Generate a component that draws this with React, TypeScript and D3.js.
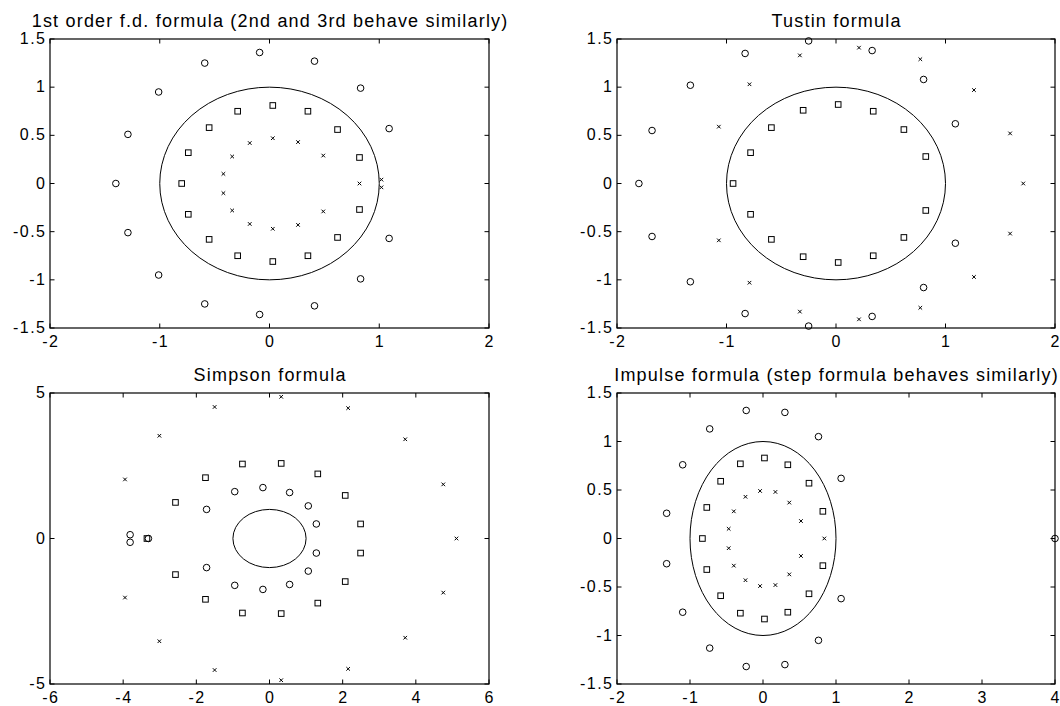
import * as d3 from "d3"

// pole/zero style points, [re, im]
const fdCircles = [[-0.09, 1.36], [-0.59, 1.25], [0.41, 1.27], [-1.01, 0.95], [0.83, 0.99], [-1.29, 0.51], [1.09, 0.57], [-1.4, 0], [-1.29, -0.51], [1.09, -0.57], [-1.01, -0.95], [0.83, -0.99], [-0.59, -1.25], [0.41, -1.27], [-0.09, -1.36]]
const fdSquares = [[0.03, 0.81], [-0.29, 0.75], [0.35, 0.75], [-0.55, 0.58], [0.62, 0.56], [-0.74, 0.32], [0.82, 0.27], [-0.8, 0], [-0.74, -0.32], [0.82, -0.27], [-0.55, -0.58], [0.62, -0.56], [-0.29, -0.75], [0.35, -0.75], [0.03, -0.81]]
const fdCrosses = [[0.03, 0.47], [-0.18, 0.42], [0.26, 0.43], [-0.34, 0.28], [0.49, 0.29], [-0.42, 0.1], [0.82, 0], [1.02, 0.04], [1.02, -0.04], [-0.42, -0.1], [-0.34, -0.28], [0.49, -0.29], [-0.18, -0.42], [0.26, -0.43], [0.03, -0.47]]

const tustinCircles = [[-0.25, 1.48], [-0.83, 1.35], [0.33, 1.38], [-1.33, 1.02], [0.8, 1.08], [-1.68, 0.55], [1.09, 0.62], [-1.8, 0], [-1.68, -0.55], [1.09, -0.62], [-1.33, -1.02], [0.8, -1.08], [-0.83, -1.35], [0.33, -1.38], [-0.25, -1.48]]
const tustinSquares = [[0.02, 0.82], [-0.3, 0.76], [0.34, 0.75], [-0.59, 0.58], [0.62, 0.56], [-0.78, 0.32], [0.82, 0.28], [-0.94, 0], [-0.78, -0.32], [0.82, -0.28], [-0.59, -0.58], [0.62, -0.56], [-0.3, -0.76], [0.34, -0.75], [0.02, -0.82]]
const tustinCrosses = [[0.21, 1.41], [-0.33, 1.33], [0.77, 1.29], [-0.79, 1.03], [1.26, 0.97], [-1.07, 0.59], [1.59, 0.52], [1.71, 0], [-1.07, -0.59], [1.59, -0.52], [-0.79, -1.03], [1.26, -0.97], [0.77, -1.29], [-0.33, -1.33], [0.21, -1.41]]

const simpsonCircles = [[-0.18, 1.75], [-0.95, 1.61], [0.55, 1.58], [-1.72, 1.0], [1.06, 1.12], [1.28, 0.5], [-3.81, 0.13], [-3.81, -0.13], [1.28, -0.5], [-1.72, -1.0], [1.06, -1.12], [-0.95, -1.61], [0.55, -1.58], [-0.18, -1.75], [-3.31, 0]]
const simpsonSquares = [[-0.74, 2.56], [0.32, 2.58], [-1.75, 2.09], [1.32, 2.22], [-2.57, 1.24], [2.07, 1.48], [2.49, 0.5], [-3.35, 0], [2.49, -0.5], [-2.57, -1.24], [2.07, -1.48], [-1.75, -2.09], [1.32, -2.22], [-0.74, -2.56], [0.32, -2.58]]
const simpsonCrosses = [[0.32, 4.87], [-1.5, 4.52], [2.15, 4.48], [-3.01, 3.53], [3.71, 3.41], [-3.95, 2.03], [4.75, 1.86], [5.11, 0], [-3.95, -2.03], [4.75, -1.86], [-3.01, -3.53], [3.71, -3.41], [-1.5, -4.52], [2.15, -4.48], [0.32, -4.87]]

const impulseCircles = [[-0.23, 1.32], [0.3, 1.3], [-0.73, 1.13], [0.76, 1.05], [-1.1, 0.76], [1.07, 0.62], [-1.32, 0.26], [-1.32, -0.26], [1.07, -0.62], [-1.1, -0.76], [0.76, -1.05], [-0.73, -1.13], [0.3, -1.3], [-0.23, -1.32], [4.0, 0]]
const impulseSquares = [[0.02, 0.83], [-0.31, 0.77], [0.34, 0.76], [-0.58, 0.59], [0.63, 0.57], [-0.77, 0.32], [0.82, 0.28], [-0.83, 0], [-0.77, -0.32], [0.82, -0.28], [-0.58, -0.59], [0.63, -0.57], [-0.31, -0.77], [0.34, -0.76], [0.02, -0.83]]
const impulseCrosses = [[-0.04, 0.49], [0.17, 0.48], [-0.24, 0.43], [0.36, 0.37], [-0.4, 0.28], [0.52, 0.18], [-0.47, 0.1], [0.84, 0], [-0.47, -0.1], [0.52, -0.18], [-0.4, -0.28], [0.36, -0.37], [-0.24, -0.43], [0.17, -0.48], [-0.04, -0.49]]

// ticks
const ticks2 = [-2, -1, 0, 1, 2]
const ticks15 = [-1.5, -1, -0.5, 0, 0.5, 1, 1.5]
const ticks6 = [-6, -4, -2, 0, 2, 4, 6]
const ticks5 = [-5, 0, 5]
const ticksImpulse = [-2, -1, 0, 1, 2, 3, 4]

const titles = [
    "1st order f.d. formula (2nd and 3rd behave similarly)",
    "Tustin formula",
    "Simpson formula",
    "Impulse formula (step formula behaves similarly)",
]

const FONT = "'Liberation Sans', Arial, Helvetica, sans-serif"

type Pt = number[]

function Panel(props: {
    left: number, top: number, width: number, height: number,
    xDomain: number[], yDomain: number[], xTicks: number[], yTicks: number[],
    title: string, circles: Pt[], squares: Pt[], crosses: Pt[]
}) {
    const { left, top, width, height } = props
    const x = d3.scaleLinear().domain(props.xDomain).range([left, left + width])
    const y = d3.scaleLinear().domain(props.yDomain).range([top + height, top])
    const tick = 4.5
    const ls = 1.5

    return (
        <g>
            {/* unit circle */}
            <ellipse cx={x(0)} cy={y(0)} rx={x(1) - x(0)} ry={y(0) - y(1)}
                fill="none" stroke="#000" strokeWidth={1} />

            {props.circles.map((d, i) => (
                <circle key={"c" + i} cx={x(d[0])} cy={y(d[1])} r={3.3}
                    fill="none" stroke="#000" strokeWidth={1} />
            ))}
            {props.squares.map((d, i) => (
                <rect key={"s" + i} x={x(d[0]) - 2.8} y={y(d[1]) - 2.8} width={5.6} height={5.6}
                    fill="none" stroke="#000" strokeWidth={1} />
            ))}
            {props.crosses.map((d, i) => {
                const cx = x(d[0]), cy = y(d[1]), s = 1.8
                return (
                    <path key={"x" + i}
                        d={`M${cx - s},${cy - s}L${cx + s},${cy + s}M${cx - s},${cy + s}L${cx + s},${cy - s}`}
                        stroke="#000" strokeWidth={1} fill="none" />
                )
            })}

            {/* box */}
            <rect x={left} y={top} width={width} height={height}
                fill="none" stroke="#000" strokeWidth={1.2} />

            {props.xTicks.map(t => (
                <g key={"xt" + t}>
                    <line x1={x(t)} x2={x(t)} y1={top + height} y2={top + height - tick} stroke="#000" strokeWidth={1} />
                    <line x1={x(t)} x2={x(t)} y1={top} y2={top + tick} stroke="#000" strokeWidth={1} />
                    <text x={x(t) + ls / 2} y={top + height + 19} textAnchor="middle"
                        fontSize={16} letterSpacing={ls} fontFamily={FONT}>{String(t)}</text>
                </g>
            ))}
            {props.yTicks.map(t => (
                <g key={"yt" + t}>
                    <line x1={left} x2={left + tick} y1={y(t)} y2={y(t)} stroke="#000" strokeWidth={1} />
                    <line x1={left + width} x2={left + width - tick} y1={y(t)} y2={y(t)} stroke="#000" strokeWidth={1} />
                    <text x={left - 5 + ls} y={y(t) + 5} textAnchor="end"
                        fontSize={16} letterSpacing={ls} fontFamily={FONT}>{String(t)}</text>
                </g>
            ))}

            <text x={left + width / 2 + 0.6} y={top - 12} textAnchor="middle"
                fontSize={18} letterSpacing={1.2} fontFamily={FONT}>{props.title}</text>
        </g>
    )
}

export default function App() {
    return (
        <svg width={1060} height={706} style={{ position: "absolute", left: 0, top: 0, background: "#fff" }}>
            <rect width={1060} height={706} fill="#fff" />
            <Panel left={50} top={39} width={439} height={289}
                xDomain={[-2, 2]} yDomain={[-1.5, 1.5]} xTicks={ticks2} yTicks={ticks15}
                title={titles[0]} circles={fdCircles} squares={fdSquares} crosses={fdCrosses} />
            <Panel left={617} top={39} width={438} height={289}
                xDomain={[-2, 2]} yDomain={[-1.5, 1.5]} xTicks={ticks2} yTicks={ticks15}
                title={titles[1]} circles={tustinCircles} squares={tustinSquares} crosses={tustinCrosses} />
            <Panel left={50} top={393} width={439} height={291}
                xDomain={[-6, 6]} yDomain={[-5, 5]} xTicks={ticks6} yTicks={ticks5}
                title={titles[2]} circles={simpsonCircles} squares={simpsonSquares} crosses={simpsonCrosses} />
            <Panel left={617} top={393} width={438} height={291}
                xDomain={[-2, 4]} yDomain={[-1.5, 1.5]} xTicks={ticksImpulse} yTicks={ticks15}
                title={titles[3]} circles={impulseCircles} squares={impulseSquares} crosses={impulseCrosses} />
        </svg>
    )
}
